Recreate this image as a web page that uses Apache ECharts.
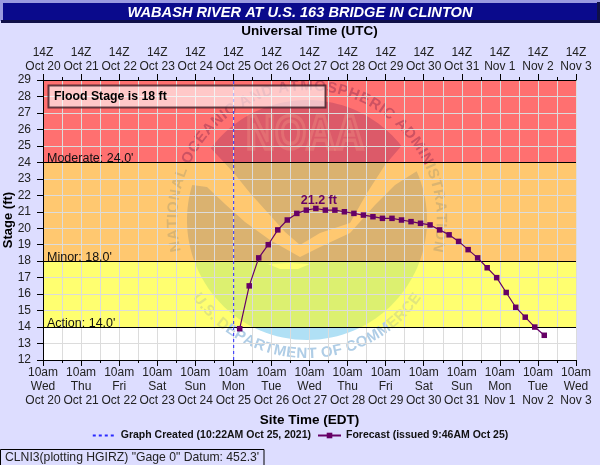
<!DOCTYPE html>
<html>
<head>
<meta charset="utf-8">
<style>html,body{margin:0;padding:0;background:#ddddff}#c{width:600px;height:465px}</style>
<script src="https://cdn.jsdelivr.net/npm/echarts@6/dist/echarts.min.js"></script>
</head>
<body>
<div id="c"></div>
<script>
const titleText = 'WABASH RIVER AT U.S. 163 BRIDGE IN CLINTON';
const yAxisTitle = 'Stage (ft)';
const weekdays = ['Wed','Thu','Fri','Sat','Sun','Mon','Tue','Wed','Thu','Fri','Sat','Sun','Mon','Tue','Wed'];
const dates = ['Oct 20','Oct 21','Oct 22','Oct 23','Oct 24','Oct 25','Oct 26','Oct 27','Oct 28','Oct 29','Oct 30','Oct 31','Nov 1','Nov 2','Nov 3'];
const siteHour = '10am';
const utcHour = '14Z';
// hours after 10am Oct 20
const forecastHours = [124,130,136,142,148,154,160,166,172,178,184,190,196,202,208,214,220,226,232,238,244,250,256,262,268,274,280,286,292,298,304,310,316];
const forecastStage = [13.9,16.5,18.2,19.0,19.9,20.5,20.9,21.1,21.2,21.1,21.1,21.0,20.9,20.8,20.7,20.6,20.6,20.5,20.4,20.3,20.2,19.9,19.6,19.2,18.7,18.2,17.6,17.0,16.1,15.2,14.6,14.0,13.5];
const createdHour = 120.2;
const bandLimits = [14,18,24,29];
const bandColors = ['#ffff70','#ffc870','#ff7070'];
const stageLines = [{v:14,t:"Action: 14.0'"},{v:18,t:"Minor: 18.0'"},{v:24,t:"Moderate: 24.0'"}];

const FONT = '"Liberation Sans", Arial, sans-serif';
const PURPLE = '#660066';
const peak = Math.max(...forecastStage);

// ---- NOAA watermark (decoration only) ----
const CX = 307, CY = 220, R = 120;
function arc(a0, a1, r) {
  const p = [], n = 48;
  for (let i = 0; i <= n; i++) {
    const a = (a0 + (a1 - a0) * i / n) * Math.PI / 180;
    p.push([CX + r * Math.cos(a), CY + r * Math.sin(a)]);
  }
  return p;
}
function ang(x, y) { return Math.atan2(y - CY, x - CX) * 180 / Math.PI; }
function hardGrad(y, c1, c2) {
  return {type:'linear', global:true, x:0, y:y-0.5, x2:0, y2:y+0.5,
    colorStops:[{offset:0,color:c1},{offset:1,color:c2}]};
}
const yMod = 162, yMin = 261.5, yAct = 327.5;
const darkFill = hardGrad(yMod, 'rgb(220,90,105)', 'rgb(218,178,112)');
const topPoly = arc(ang(213,150) + 0, ang(400,147), R).concat([[385,165],[367,193],[350,223],[320,233],[300,245],[285,232],[268,213],[250,193],[233,172]]);
const lowerTanPoly = [[207,187]].concat(arc(197, 160.5, R)).concat(arc(20.5, -24, R)).concat([[395,185],[375,205],[350,233],[320,247],[300,257],[270,240],[245,222],[225,204]]);
const blueStart = Math.asin((yMin - CY) / R) * 180 / Math.PI;
const bluePoly = arc(blueStart, 180 - blueStart, R);
const blueFill = hardGrad(yAct, 'rgb(220,240,112)', 'rgb(176,224,245)');
const logo = [
  {type:'polygon', z:2, silent:true, shape:{points:topPoly}, style:{fill:darkFill}},
  {type:'polygon', z:2, silent:true, shape:{points:lowerTanPoly}, style:{fill:darkFill}},
  {type:'polygon', z:2, silent:true, shape:{points:bluePoly}, style:{fill:blueFill}},
  {type:'polygon', z:2, silent:true, shape:{points:[[268,264],[290,263],[310,264],[298,269],[280,269]]}, style:{fill:'#ffff70'}},
  {type:'text', z:2, silent:true, x:305, y:170, scaleY:1.2, originX:305, originY:170,
    style:{text:'NOAA', font:'bold 40px '+FONT, align:'center', verticalAlign:'middle',
      fill:'rgba(0,0,0,0)', stroke:'rgba(255,190,150,0.2)', lineWidth:3}}
];
function letterColor(y) {
  if (y < yMod) return 'rgb(205,82,98)';
  if (y < yMin) return 'rgb(218,180,112)';
  if (y < yAct) return 'rgb(224,230,125)';
  return 'rgb(175,205,230)';
}
const measure = document.createElement('canvas').getContext('2d');
function ringText(s, a0, a1, r, flip, font) {
  measure.font = font;
  const w = [...s].map(ch => measure.measureText(ch).width);
  const total = w.reduce((a, b) => a + b, 0);
  let run = 0;
  [...s].forEach((ch, i) => {
    const a = a0 + (a1 - a0) * (run + w[i] / 2) / total;
    run += w[i];
    const t = a * Math.PI / 180;
    const x = CX + r * Math.cos(t), y = CY + r * Math.sin(t);
    logo.push({type:'text', z:2, silent:true, x, y,
      rotation: flip ? -(t - Math.PI/2) : -(t + Math.PI/2),
      style:{text:ch, font, align:'center', verticalAlign:'middle', fill:letterColor(y)}});
  });
}
ringText('NATIONAL OCEANIC AND ATMOSPHERIC ADMINISTRATION', 166, 374, 134, false, 'bold 15px '+FONT);
ringText('U.S. DEPARTMENT OF COMMERCE', 146, 34, 134, true, 'bold 15px '+FONT);

// ---- page furniture ----
const furniture = [
  {type:'rect', z:0, silent:true, shape:{x:0,y:0,width:600,height:3}, style:{fill:'#9a9ae0'}},
  {type:'rect', z:0, silent:true, shape:{x:0,y:0,width:3,height:21}, style:{fill:'#9a9ae0'}},
  {type:'rect', z:0, silent:true, shape:{x:1,y:20,width:599,height:3}, style:{fill:'#101048'}},
  {type:'rect', z:0, silent:true, shape:{x:597,y:2,width:3,height:21}, style:{fill:'#101048'}},
  {type:'rect', z:1, silent:true, shape:{x:3,y:3,width:594,height:17}, style:{fill:'#0a0a8c'}},
  {type:'text', z:1, silent:true, x:300, y:12.5, style:{text:titleText, font:'italic bold 14.6px '+FONT, align:'center', verticalAlign:'middle', fill:'#fff'}},
  {type:'text', z:1, silent:true, x:8, y:220, rotation:Math.PI/2, style:{text:yAxisTitle, font:'bold 13px '+FONT, align:'center', verticalAlign:'middle', fill:'#000'}},
  {type:'rect', z:6, silent:true, shape:{x:48.5,y:85.5,width:277,height:22}, style:{fill:'rgba(255,255,255,0.62)', stroke:'rgba(50,20,30,0.75)', lineWidth:2}},
  {type:'text', z:7, silent:true, x:54, y:96.5, style:{text:'Flood Stage is 18 ft', font:'bold 12.3px '+FONT, align:'left', verticalAlign:'middle', fill:'#000'}},
  {type:'rect', z:1, silent:true, shape:{x:0.5,y:449.5,width:263.5,height:16}, style:{fill:'#ddddff', stroke:'#000', lineWidth:1}},
  {type:'text', z:1, silent:true, x:5, y:458, style:{text:'CLNI3(plotting HGIRZ) "Gage 0" Datum: 452.3\'', font:'12.2px '+FONT, align:'left', verticalAlign:'middle', fill:'#222'}}
];

const bandAreas = bandColors.map((c, i) => [
  {yAxis: bandLimits[i], itemStyle:{color:c, opacity:1}},
  {yAxis: bandLimits[i+1]}
]);
const xBase = {
  type:'value', min:0, max:336, interval:24,
  z:3,
  axisLine:{show:true, onZero:false, lineStyle:{color:'#000', width:1}},
  axisTick:{show:true, length:6, lineStyle:{color:'#000'}},
  minorTick:{show:true, splitNumber:2, length:3, lineStyle:{color:'#000'}},
  nameLocation:'middle',
  nameTextStyle:{fontFamily:FONT, fontWeight:'bold', fontSize:13.5, color:'#000'}
};
const option = {
  animation:false,
  backgroundColor:'#ddddff',
  textStyle:{fontFamily:FONT},
  grid:{left:43, right:24, top:80, bottom:105, show:true, backgroundColor:'#fff', borderWidth:0, outerBoundsMode:'none'},
  xAxis:[
    Object.assign({}, xBase, {
      position:'bottom', name:'Site Time (EDT)', nameGap:53,
      splitLine:{show:true, lineStyle:{color:'#dcdcdc', width:1}},
      minorSplitLine:{show:true, lineStyle:{color:'#dcdcdc', width:1}},
      axisLabel:{fontFamily:FONT, fontSize:12, color:'#222', lineHeight:14, margin:6,
        formatter:v => siteHour + '\n' + weekdays[v/24] + '\n' + dates[v/24]}
    }),
    Object.assign({}, xBase, {
      position:'top', name:'Universal Time (UTC)', nameGap:42,
      splitLine:{show:false},
      axisLabel:{fontFamily:FONT, fontSize:12, color:'#222', lineHeight:14, margin:6,
        formatter:v => utcHour + '\n' + dates[v/24]}
    })
  ],
  yAxis:[
    {type:'value', min:12, max:29, interval:1, z:3, position:'left',
      axisLine:{show:true, lineStyle:{color:'#000'}},
      axisTick:{show:true, length:6, lineStyle:{color:'#000'}},
      splitLine:{show:true, lineStyle:{color:'#dcdcdc', width:1}},
      axisLabel:{fontFamily:FONT, fontSize:12, color:'#222', margin:12}},
    {type:'value', min:12, max:29, interval:1, z:3, position:'right',
      axisLine:{show:true, lineStyle:{color:'#000'}},
      axisTick:{show:false}, axisLabel:{show:false}, splitLine:{show:false}}
  ],
  legend:{
    data:[{name:'Graph Created (10:22AM Oct 25, 2021)', itemStyle:{opacity:0}},'Forecast (issued 9:46AM Oct 25)'],
    left:'center', top:430, itemWidth:23, itemHeight:7, itemGap:6, padding:0,
    textStyle:{fontFamily:FONT, fontWeight:'bold', fontSize:10.5, color:'#111'}
  },
  graphic:{elements: furniture.concat(logo)},
  series:[
    {type:'line', name:'bands', data:[], silent:true, z:1,
      markArea:{silent:true, z:1, data:bandAreas},
      markLine:{silent:true, z:4, symbol:'none', precision:1,
        lineStyle:{color:'#000', width:1.2, type:'solid'},
        label:{position:'insideStartTop', distance:[4,-3], fontFamily:FONT, fontSize:12.5, color:'#111', formatter:p => p.name},
        data:stageLines.map(s => ({yAxis:s.v, name:s.t}))}},
    {type:'line', name:'Graph Created (10:22AM Oct 25, 2021)', z:5, symbol:'none', silent:true,
      data:[[createdHour,12],[createdHour,29]],
      lineStyle:{color:'#2a2aff', width:1, type:[3,3]}, itemStyle:{color:'#2a2aff'}},
    {type:'line', name:'Forecast (issued 9:46AM Oct 25)', z:6, symbol:'rect', symbolSize:5.5, silent:true,
      data:forecastHours.map((h,i) => {
        const d = {value:[h, forecastStage[i]]};
        if (forecastStage[i] === peak) d.label = {show:true, position:'top', distance:0, offset:[3,1], fontFamily:FONT, fontWeight:'bold', fontSize:12.5, color:PURPLE, formatter:p => p.value[1] + ' ft'};
        return d;
      }),
      lineStyle:{color:PURPLE, width:1.2}, itemStyle:{color:PURPLE}}
  ]
};
echarts.init(document.getElementById('c')).setOption(option);
</script>
</body>
</html>
